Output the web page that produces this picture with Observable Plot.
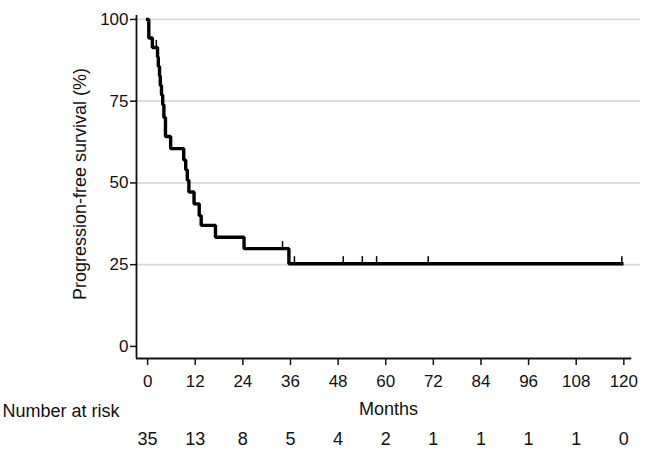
<!DOCTYPE html>
<html>
<head>
<meta charset="utf-8">
<script src="https://cdn.jsdelivr.net/npm/d3@7"></script>
<script src="https://cdn.jsdelivr.net/npm/@observablehq/plot@0.6"></script>
<style>
  html, body { margin: 0; padding: 0; background: #fff; }
</style>
</head>
<body>
<div id="chart"></div>
<script>
// Kaplan-Meier step curve (months, % progression-free)
const stepMonths = [0, 0.3, 1.2, 2.5, 2.7, 3.0, 3.2, 3.5, 3.8, 4.1, 4.5, 5.8, 9.1, 9.6, 10.0, 10.4, 11.7, 13.0, 13.5, 17.1, 24.3, 35.6, 119.5];
const stepSurvival = [100, 94.3, 91.4, 88.5, 85.6, 82.7, 79.8, 76.9, 73.9, 70.0, 64.2, 60.5, 57.0, 54.0, 50.8, 47.2, 43.6, 40.0, 37.0, 33.4, 29.9, 25.3, 25.3];

// Censored observations
const censorMonths = [2.2, 34.0, 37.0, 49.3, 54.1, 57.7, 70.7, 119.5];
const censorSurvival = [91.4, 29.9, 25.3, 25.3, 25.3, 25.3, 25.3, 25.3];

// Axes
const xTicks = [0, 12, 24, 36, 48, 60, 72, 84, 96, 108, 120];
const yTicks = [0, 25, 50, 75, 100];
const gridValues = [25, 50, 75, 100];

// Number at risk
const riskMonths = [0, 12, 24, 36, 48, 60, 72, 84, 96, 108, 120];
const riskCounts = [35, 13, 8, 5, 4, 2, 1, 1, 1, 1, 0];

const curve = stepMonths.map((m, i) => ({month: m, surv: stepSurvival[i]}));
const censors = censorMonths.map((m, i) => ({month: m, surv: censorSurvival[i]}));
const risk = riskMonths.map((m, i) => ({month: m, n: riskCounts[i]}));

const xMin = -2.8, yMin = -3.7;
const tickShape = {
  draw(context, l) { context.moveTo(0, 0); context.lineTo(0, -l); }
};

const chart = Plot.plot({
  width: 657,
  height: 456,
  marginLeft: 136,
  marginRight: 17,
  marginTop: 15,
  marginBottom: 98,
  x: {domain: [xMin, 124.2]},
  y: {domain: [yMin, 101.2]},
  style: {fontFamily: "'Liberation Sans', Arial, Helvetica, sans-serif", color: "#111", background: "#fff"},
  marks: [
    Plot.gridY({ticks: gridValues, stroke: "#d9d9d9", strokeOpacity: 1, strokeWidth: 1.8}),
    Plot.ruleX([xMin], {stroke: "#111", strokeWidth: 1.8}),
    Plot.ruleY([yMin], {x1: xMin, x2: 122, stroke: "#111", strokeWidth: 1.8}),
    Plot.axisY({ticks: yTicks, tickSize: 6, tickPadding: 2, fontSize: 17, label: null, strokeWidth: 1.5}),
    Plot.axisX({ticks: xTicks, tickSize: 7, tickPadding: 9, fontSize: 17, label: null, strokeWidth: 1.5}),
    Plot.line(curve, {x: "month", y: "surv", curve: "step-after", stroke: "#000", strokeWidth: 3.4, strokeLinejoin: "miter", strokeLinecap: "square"}),
    Plot.vector(censors, {x: "month", y: "surv", length: 7, rotate: 0, anchor: "start", shape: tickShape, stroke: "#000", strokeWidth: 1.5}),
    Plot.text(["Progression-free survival (%)"], {frameAnchor: "left", textAnchor: "middle", rotate: -90, dx: -56, dy: -3, fontSize: 18}),
    Plot.text(["Months"], {frameAnchor: "bottom", dy: 56, fontSize: 18}),
    Plot.text(["Number at risk"], {frameAnchor: "bottom-left", dx: -134, dy: 58, textAnchor: "start", fontSize: 18}),
    Plot.text(risk, {x: "month", text: "n", frameAnchor: "bottom", dy: 86, fontSize: 18})
  ]
});
document.getElementById("chart").appendChild(chart);
</script>
</body>
</html>
